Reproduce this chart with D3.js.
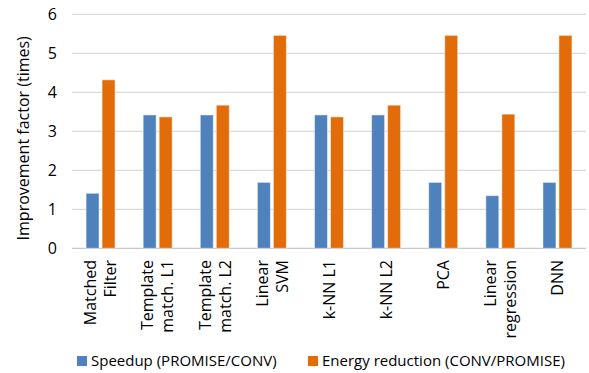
<!DOCTYPE html>
<html>
<head>
<meta charset="utf-8">
<script src="https://cdn.jsdelivr.net/npm/d3@7"></script>
<style>
  body { margin: 0; background: #fff; }
  svg text { font-family: "Open Sans", "Noto Sans", sans-serif; fill: #000; }
</style>
</head>
<body>
<svg id="chart" width="589" height="373"></svg>
<script>
// --- data ---
const categories = [
    ["Matched", "Filter"],
    ["Template", "match. L1"],
    ["Template", "match. L2"],
    ["Linear", "SVM"],
    ["k-NN L1"],
    ["k-NN L2"],
    ["PCA"],
    ["Linear", "regression"],
    ["DNN"]
];
const seriesNames = ["Speedup (PROMISE/CONV)", "Energy reduction (CONV/PROMISE)"];
const speedup = [1.41, 3.42, 3.42, 1.69, 3.42, 3.42, 1.69, 1.35, 1.69];
const energy = [4.32, 3.37, 3.67, 5.46, 3.37, 3.67, 5.46, 3.44, 5.46];
const yTicks = [0, 1, 2, 3, 4, 5, 6];
const colors = ["#4f81bd", "#e36c0a"];

// --- 1. Setup ---
const svg = d3.select("#chart");
const plot = { left: 72, right: 586, top: 14.3, bottom: 248.3 };

// --- 2. Scales ---
const x = d3.scaleBand()
    .domain(d3.range(categories.length))
    .range([plot.left, plot.right]);

const x1 = d3.scaleBand()
    .domain([0, 1])
    .range([-14.5, 14.5])
    .paddingInner(0.1875);

const y = d3.scaleLinear()
    .domain([0, 6])
    .range([plot.bottom, plot.top]);

// --- 3. Gridlines ---
svg.append("g")
    .selectAll("line")
    .data(yTicks)
    .join("line")
    .attr("x1", plot.left)
    .attr("x2", plot.right)
    .attr("y1", d => y(d))
    .attr("y2", d => y(d))
    .attr("stroke", d => d === 0 ? "#c8c8c8" : "#d9d9d9")
    .attr("stroke-width", 1.3);

// y tick labels
svg.append("g")
    .selectAll("text")
    .data(yTicks)
    .join("text")
    .attr("x", 57)
    .attr("y", d => y(d))
    .attr("dy", "0.36em")
    .attr("text-anchor", "end")
    .style("font-size", "16px")
    .text(d => d);

// y title
svg.append("text")
    .attr("transform", `translate(29, ${(plot.top + plot.bottom) / 2 + 7}) rotate(-90)`)
    .attr("text-anchor", "middle")
    .style("font-size", "16px")
    .text("Improvement factor (times)");

// --- 4. Bars ---
const rows = categories.map((c, i) => ({ i, values: [speedup[i], energy[i]] }));

const groups = svg.append("g")
    .selectAll("g")
    .data(rows)
    .join("g")
    .attr("transform", d => `translate(${x(d.i) + x.bandwidth() / 2},0)`);

groups.selectAll("rect")
    .data(d => d.values.map((v, s) => ({ v, s })))
    .join("rect")
    .attr("x", d => x1(d.s))
    .attr("width", x1.bandwidth())
    .attr("y", d => y(d.v))
    .attr("height", d => y(0) - y(d.v))
    .attr("fill", d => colors[d.s])
    .attr("stroke", "#ffffff")
    .attr("stroke-opacity", 0.5)
    .attr("stroke-width", 1);

// --- 5. Category labels (rotated, one or two lines) ---
const labels = svg.append("g")
    .selectAll("g")
    .data(categories)
    .join("g")
    .attr("transform", (d, i) => `translate(${x(i) + x.bandwidth() / 2}, 260) rotate(-90)`);

labels.selectAll("text")
    .data(d => d.map((t, k) => ({ t, k, n: d.length })))
    .join("text")
    .attr("x", 0)
    .attr("y", d => (d.k - (d.n - 1) / 2) * 20)
    .attr("dy", "0.36em")
    .attr("text-anchor", "end")
    .style("font-size", "16px")
    .text(d => d.t);

// --- 6. Legend ---
const legendItems = [
    { name: seriesNames[0], color: colors[0], x: 77 },
    { name: seriesNames[1], color: colors[1], x: 308 }
];

const legend = svg.append("g")
    .selectAll("g")
    .data(legendItems)
    .join("g")
    .attr("transform", d => `translate(${d.x}, 361)`);

legend.append("rect")
    .attr("x", 0)
    .attr("y", -5)
    .attr("width", 10)
    .attr("height", 10)
    .attr("fill", d => d.color);

legend.append("text")
    .attr("x", 14)
    .attr("y", 0)
    .attr("dy", "0.36em")
    .style("font-size", "15px")
    .text(d => d.name);
</script>
</body>
</html>
